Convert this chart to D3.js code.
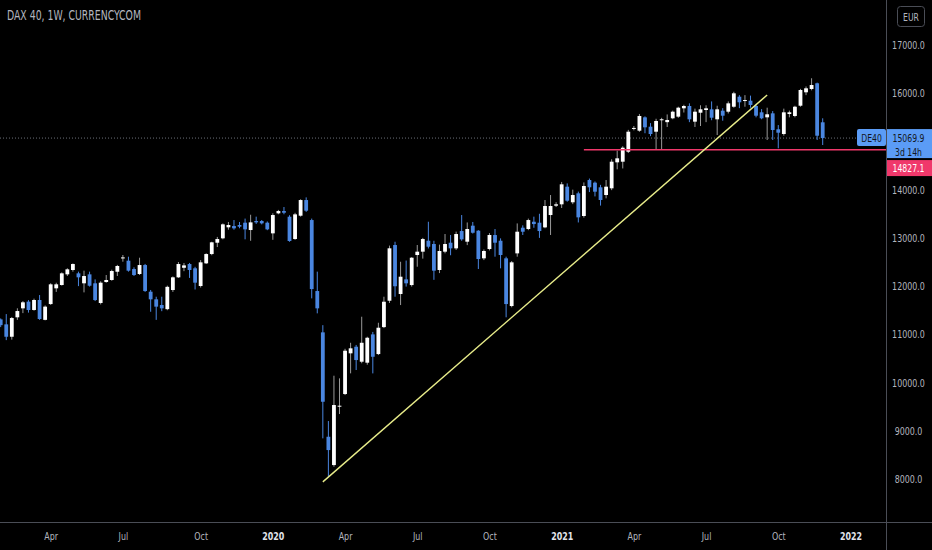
<!DOCTYPE html>
<html>
<head>
<meta charset="utf-8">
<script src="https://cdn.jsdelivr.net/npm/d3@7/dist/d3.min.js"></script>
<style>
  html, body { margin: 0; padding: 0; background: #000; }
  svg { display: block; }
  text { font-family: "DejaVu Sans Condensed", "DejaVu Sans", sans-serif; }
</style>
</head>
<body>
<div id="chart"></div>
<script>
// weekly bars, DAX 40 CFD (currency.com), starting week of 28 Jan 2019
const firstWeek = '2019-01-28';
const lastWeek = '2021-11-29';

const open = [
  11310, 11207, 10950, 11353, 11539, 11678, 11505, 11712, 11300, 11628,
  11954, 12023, 12244, 12334, 12265, 12058, 12244, 12058, 11650, 12085,
  12127, 12298, 12580, 12527, 12354, 12251, 12437, 11884, 11726, 11608,
  11522, 11919, 12182, 12380, 12458, 12369, 12002, 12472, 12665, 12900,
  12991, 13219, 13246, 13267, 13315, 13163, 13350, 13350, 13315, 13094,
  13509, 13557, 13439, 12977, 13460, 13785, 13370, 11898, 11041, 8876,
  8289, 9500, 9762, 10606, 10743, 10432, 10412, 10999, 10591, 11150,
  11697, 12852, 11836, 12140, 12022, 12645, 12714, 12941, 12873, 12334,
  12714, 12900, 12783, 13142, 12921, 13253, 13149, 12576, 12769, 13059,
  12941, 12576, 11587, 12679, 13211, 13184, 13335, 13315, 13218, 13474,
  13668, 13696, 14062, 13738, 13924, 13454, 14200, 14145, 14049, 13889,
  14028, 14567, 14580, 14787, 15260, 15223, 15500, 15306, 15202, 15440,
  15400, 15480, 15514, 15687, 15735, 15410, 15596, 15652, 15666, 15459,
  15638, 15617, 15720, 15928, 15845, 15845, 15735, 15604, 15500, 15583,
  15252, 15154, 15569, 15528, 15741, 16019, 16088, 16206, 15397
];
const high = [
  11330, 11420, 11360, 11540, 11690, 11710, 11740, 11815, 11600, 12060,
  12070, 12285, 12370, 12470, 12300, 12320, 12300, 12140, 12100, 12230,
  12340, 12440, 12645, 12610, 12390, 12589, 12460, 11920, 11780, 11780,
  12010, 12200, 12500, 12480, 12480, 12400, 12540, 12680, 12920, 13020,
  13300, 13330, 13370, 13330, 13400, 13480, 13440, 13370, 13340, 13510,
  13580, 13640, 13470, 13520, 13800, 13840, 13400, 12300, 11190, 9202,
  10142, 10087, 10700, 10825, 10780, 11365, 10950, 11050, 11240, 11780,
  12840, 12920, 12505, 12530, 12600, 12852, 13000, 13335, 12940, 12860,
  13080, 13060, 13130, 13474, 13320, 13330, 13160, 12760, 13100, 13184,
  12990, 12610, 12520, 13300, 13260, 13400, 13440, 13500, 13785, 13889,
  13740, 14160, 14130, 14000, 13960, 14150, 14230, 14170, 14100, 14200,
  14630, 14808, 14900, 15240, 15320, 15570, 15520, 15380, 15470, 15490,
  15560, 15640, 15720, 15760, 15790, 15680, 15750, 15750, 15830, 15740,
  15690, 15830, 16030, 15960, 15960, 15950, 15780, 15670, 15700, 15630,
  15340, 15680, 15640, 15740, 16090, 16140, 16310, 16220, 15480
];
const low = [
  11150, 10880, 10890, 11300, 11440, 11450, 11490, 11300, 11290, 11610,
  11880, 12010, 12210, 12300, 12000, 11870, 11990, 11690, 11620, 12070,
  12110, 12210, 12506, 12300, 12210, 12230, 11880, 11468, 11300, 11480,
  11500, 11880, 12170, 12310, 12170, 11930, 11970, 12460, 12640, 12810,
  12970, 13170, 13170, 13200, 12970, 12940, 13290, 13280, 13160, 12960,
  13490, 13490, 12920, 12960, 13440, 13540, 11746, 11435, 8843, 8047,
  8254, 9347, 9740, 10191, 10260, 10400, 10370, 10190, 10570, 11130,
  11650, 11780, 11607, 11990, 11990, 12402, 12570, 12780, 12130, 12270,
  12680, 12640, 12750, 12940, 12850, 13090, 12355, 12540, 12740, 12610,
  12369, 11353, 11560, 12610, 13060, 13160, 13210, 13000, 13200, 13060,
  13640, 13620, 13750, 13700, 13320, 13420, 13950, 13860, 13670, 13820,
  13990, 14422, 14440, 14760, 15230, 15200, 15170, 15110, 14837, 14837,
  15300, 15460, 15490, 15600, 15400, 15300, 15320, 15400, 15440, 15133,
  15430, 15580, 15700, 15690, 15720, 15700, 15500, 15460, 15030, 15030,
  14858, 15120, 15500, 15500, 15720, 15960, 16060, 15030, 14926
];
const close = [
  11190, 10950, 11338, 11483, 11664, 11505, 11712, 11318, 11574, 12037,
  12037, 12265, 12348, 12458, 12182, 12209, 12008, 11711, 12071, 12127,
  12313, 12417, 12595, 12320, 12230, 12437, 11898, 11726, 11574, 11539,
  11985, 12182, 12458, 12430, 12334, 12071, 12493, 12665, 12908, 12976,
  13281, 13267, 13198, 13232, 13177, 13322, 13322, 13302, 13177, 13474,
  13557, 13522, 12935, 13488, 13785, 13564, 11939, 11539, 9602, 8600,
  9534, 9520, 10660, 10710, 10467, 10825, 10929, 10535, 11137, 11676,
  12784, 11997, 12195, 12058, 12589, 12714, 12976, 12817, 12320, 12728,
  12873, 12783, 13080, 12970, 13184, 13107, 12562, 12728, 13060, 12900,
  12645, 11628, 12493, 13128, 13128, 13370, 13287, 13142, 13661, 13661,
  13696, 14111, 13771, 13889, 13426, 14076, 14049, 13958, 13786, 14062,
  14580, 14650, 14870, 15202, 15280, 15528, 15293, 15154, 15424, 15460,
  15445, 15617, 15700, 15735, 15459, 15617, 15666, 15687, 15492, 15666,
  15534, 15790, 15998, 15812, 15859, 15756, 15534, 15480, 15563, 15237,
  15181, 15604, 15604, 15720, 16067, 16102, 16170, 15119, 15069.9
];

// price axis (15000.0 sits under the last price label, so it is not shown)
const priceTicks = [8000, 9000, 10000, 11000, 12000, 13000, 14000, 16000, 17000];

// time axis labels (first weekly bar of each quarter)
const timeTickDates = ['2019-04-01', '2019-07-01', '2019-10-07', '2020-01-06', '2020-04-06', '2020-07-06',
  '2020-10-05', '2021-01-04', '2021-04-05', '2021-07-05', '2021-10-04', '2022-01-03'];
const timeTickLabels = ['Apr', 'Jul', 'Oct', '2020', 'Apr', 'Jul', 'Oct', '2021', 'Apr', 'Jul', 'Oct', '2022'];

// drawings
const trendDates = ['2020-03-09', '2021-09-20'];
const trendPrices = [7940, 15963];
const supportStart = '2021-02-01';
const supportPrice = 14827.1;
const lastPrice = 15069.9;
const countdown = '3d 14h';

const W = 932, H = 550;
const plotRight = 886, plotBottom = 522;
const upColor = '#ffffff', downColor = '#4a86e0';
const textColor = '#b2b5be';
const sx = 0.78; // the screenshot's type is narrow, squeeze glyphs horizontally

const parse = d3.utcParse('%Y-%m-%d');
const dates = d3.utcMonday.range(parse(firstWeek), d3.utcDay.offset(parse(lastWeek), 1));
const bars = dates.map((d, i) => ({ date: d, o: open[i], h: high[i], l: low[i], c: close[i] }));

const x = d3.scaleUtc()
  .domain([dates[0], dates[dates.length - 1]])
  .range([0.7, 822.7]);
const y = d3.scaleLinear()
  .domain([8000, 17000])
  .range([479, 45]);

const svg = d3.select('#chart').append('svg')
  .attr('width', W)
  .attr('height', H);

svg.append('rect').attr('width', W).attr('height', H).attr('fill', '#000');

// text placed at (px, py) and squeezed around its anchor
function label(px, py, str, size, fill, anchor) {
  return svg.append('text')
    .attr('transform', `translate(${px},${py}) scale(${sx},1)`)
    .attr('text-anchor', anchor || 'start')
    .attr('font-size', size)
    .attr('fill', fill)
    .text(str);
}

// title
label(7, 20, 'DAX 40, 1W, CURRENCYCOM', 13.3, textColor);

const plot = svg.append('g');
plot.append('clipPath').attr('id', 'clip')
  .append('rect').attr('x', 0).attr('y', 0).attr('width', plotRight).attr('height', plotBottom);
const g = plot.append('g').attr('clip-path', 'url(#clip)');

// last price dotted line
g.append('line')
  .attr('x1', 0).attr('x2', plotRight)
  .attr('y1', y(lastPrice)).attr('y2', y(lastPrice))
  .attr('stroke', '#6b6e78').attr('stroke-width', 1)
  .attr('stroke-dasharray', '1,2');

// candles
const bw = 3.8;
const candle = g.selectAll('.candle').data(bars).enter().append('g').attr('class', 'candle');
candle.append('line')
  .attr('x1', d => x(d.date)).attr('x2', d => x(d.date))
  .attr('y1', d => y(d.h)).attr('y2', d => y(d.l))
  .attr('stroke', d => d.c >= d.o ? '#9a9a9a' : downColor)
  .attr('stroke-width', 1);
candle.append('rect')
  .attr('x', d => x(d.date) - bw / 2)
  .attr('width', bw)
  .attr('y', d => y(Math.max(d.o, d.c)))
  .attr('height', d => Math.max(1, Math.abs(y(d.o) - y(d.c))))
  .attr('fill', d => d.c >= d.o ? upColor : downColor);

// support line
g.append('line')
  .attr('x1', x(parse(supportStart))).attr('x2', plotRight)
  .attr('y1', y(supportPrice)).attr('y2', y(supportPrice))
  .attr('stroke', '#f0386b').attr('stroke-width', 1.6);

// trend line
g.append('line')
  .attr('x1', x(parse(trendDates[0]))).attr('y1', y(trendPrices[0]))
  .attr('x2', x(parse(trendDates[1]))).attr('y2', y(trendPrices[1]))
  .attr('stroke', '#e8ec8a').attr('stroke-width', 1.4);

// frame lines
svg.append('line')
  .attr('x1', plotRight + 0.5).attr('x2', plotRight + 0.5)
  .attr('y1', 0).attr('y2', H)
  .attr('stroke', '#4a4d56');
svg.append('line')
  .attr('x1', 0).attr('x2', W)
  .attr('y1', plotBottom + 0.5).attr('y2', plotBottom + 0.5)
  .attr('stroke', '#4a4d56');

// price axis
const yAxis = svg.append('g')
  .attr('transform', `translate(${plotRight + 22.5},0)`)
  .call(d3.axisRight(y).tickValues(priceTicks).tickSize(0).tickPadding(0).tickFormat(d3.format('.1f')));
yAxis.select('.domain').remove();
yAxis.selectAll('text')
  .attr('fill', textColor)
  .attr('font-size', 11.3)
  .attr('text-anchor', 'middle')
  .attr('transform', `scale(${sx},1)`);

// time axis
const xAxis = svg.append('g')
  .attr('transform', `translate(0,${plotBottom + 10})`)
  .call(d3.axisBottom(x)
    .tickValues(timeTickDates.map(parse))
    .tickSize(0).tickPadding(0)
    .tickFormat((d, i) => timeTickLabels[i]));
xAxis.select('.domain').remove();
xAxis.selectAll('text')
  .attr('fill', (d, i) => /^\d+$/.test(timeTickLabels[i]) ? '#e0e3eb' : textColor)
  .attr('font-weight', (d, i) => /^\d+$/.test(timeTickLabels[i]) ? 'bold' : 'normal')
  .attr('font-size', 11.3)
  .attr('transform', `scale(${sx},1)`);

// currency box
svg.append('rect')
  .attr('x', 897.5).attr('y', 6.5).attr('width', 27).attr('height', 20).attr('rx', 3)
  .attr('fill', 'none').attr('stroke', '#4a4d56');
label(911, 20.5, 'EUR', 11, textColor, 'middle');

// last price label
const lpY = y(lastPrice);
svg.append('rect')
  .attr('x', 857).attr('y', lpY - 9).attr('width', plotRight - 857).attr('height', 17).attr('rx', 2)
  .attr('fill', '#5b9cf6');
label(871.5, lpY + 4, 'DE40', 11, '#131722', 'middle');
svg.append('rect')
  .attr('x', plotRight + 1).attr('y', lpY - 9).attr('width', W - plotRight - 1).attr('height', 29)
  .attr('fill', '#5b9cf6');
label(908.5, lpY + 4, d3.format('.1f')(lastPrice), 11, '#131722', 'middle');
label(908.5, lpY + 17.5, countdown, 11, '#131722', 'middle');

// support label, pushed below the last price label
svg.append('rect')
  .attr('x', plotRight + 1).attr('y', lpY + 22).attr('width', W - plotRight - 1).attr('height', 16)
  .attr('fill', '#f0386b');
label(908.5, lpY + 34, d3.format('.1f')(supportPrice), 11, '#ffffff', 'middle');
</script>
</body>
</html>
